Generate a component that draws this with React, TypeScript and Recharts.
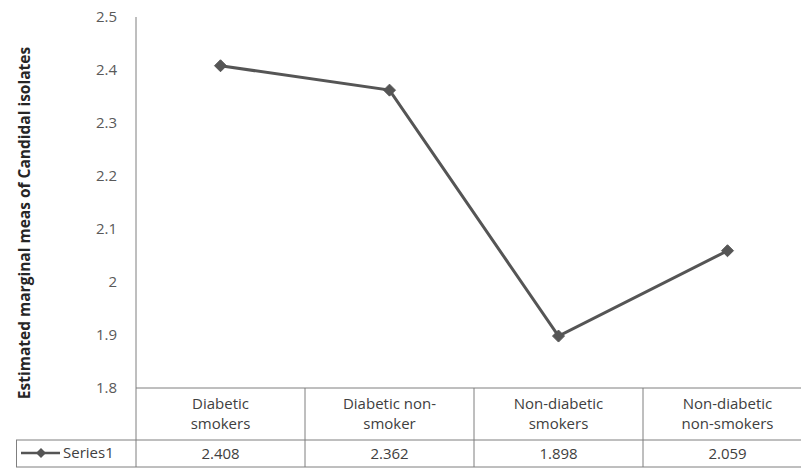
import React from 'react';
import { LineChart, Line, XAxis, YAxis, Label } from 'recharts';

const categories = ['Diabetic smokers', 'Diabetic non-smoker', 'Non-diabetic smokers', 'Non-diabetic non-smokers'];
const categoryLines = [
  ['Diabetic', 'smokers'],
  ['Diabetic non-', 'smoker'],
  ['Non-diabetic', 'smokers'],
  ['Non-diabetic', 'non-smokers'],
];
const series1 = [2.408, 2.362, 1.898, 2.059];
const valueLabels = ['2.408', '2.362', '1.898', '2.059'];
const yTicks = [1.8, 1.9, 2, 2.1, 2.2, 2.3, 2.4, 2.5];
const seriesName = 'Series1';
const yTitle = 'Estimated marginal meas of Candidal isolates';

const data = categories.map((name, i) => ({ name, idx: i, value: series1[i] }));

const CHART_W = 812;
const CHART_H = 469;
const Y_AXIS_W = 136;
const TOP = 17;
const X_AXIS_H = 81;
const BAND = (CHART_W - Y_AXIS_W) / categories.length;
const FONT = '"Open Sans", "Liberation Sans", sans-serif';
const BORDER = '#7f7f7f';
const LINE_COLOR = '#555555';
const TEXT = '#404040';

const Diamond = (props: any) => {
  const { cx, cy } = props;
  if (cx == null || cy == null) return null;
  const r = 6;
  return (
    <polygon
      points={`${cx},${cy - r} ${cx + r},${cy} ${cx},${cy + r} ${cx - r},${cy}`}
      fill={LINE_COLOR}
      stroke={LINE_COLOR}
      strokeWidth={1}
    />
  );
};

const TableTick = (props: any) => {
  const { x, y, payload } = props;
  const i = payload.index;
  const left = x - BAND / 2;
  const right = x + BAND / 2;
  const row1Bottom = y + 52;
  const row2Bottom = y + 79;
  const lines = categoryLines[i];
  return (
    <g>
      <line x1={right} y1={y} x2={right} y2={row2Bottom} stroke={BORDER} strokeWidth={1} />
      <line x1={left} y1={row1Bottom} x2={right} y2={row1Bottom} stroke={BORDER} strokeWidth={1} />
      <line x1={left} y1={row2Bottom} x2={right} y2={row2Bottom} stroke={BORDER} strokeWidth={1} />
      <text x={x} y={y + 21} textAnchor="middle" fill={TEXT} fontSize={15} fontFamily={FONT}>{lines[0]}</text>
      <text x={x} y={y + 41} textAnchor="middle" fill={TEXT} fontSize={15} fontFamily={FONT}>{lines[1]}</text>
      <text x={x} y={y + 71} textAnchor="middle" fill={TEXT} fontSize={15} fontFamily={FONT}>{valueLabels[i]}</text>
      {i === 0 && (
        <g>
          <line x1={16} y1={row1Bottom} x2={left} y2={row1Bottom} stroke={BORDER} strokeWidth={1} />
          <line x1={16} y1={row2Bottom} x2={left} y2={row2Bottom} stroke={BORDER} strokeWidth={1} />
          <line x1={16.5} y1={row1Bottom} x2={16.5} y2={row2Bottom} stroke={BORDER} strokeWidth={1} />
          <line x1={left} y1={y} x2={left} y2={row2Bottom} stroke={BORDER} strokeWidth={1} />
          <line x1={21} y1={y + 65} x2={60} y2={y + 65} stroke={LINE_COLOR} strokeWidth={2.5} />
          <polygon points={`41,${y + 60} 46,${y + 65} 41,${y + 70} 36,${y + 65}`} fill={LINE_COLOR} />
          <text x={63} y={y + 70} fill={TEXT} fontSize={15} fontFamily={FONT}>{seriesName}</text>
        </g>
      )}
    </g>
  );
};

const YTick = (props: any) => {
  const { y, payload } = props;
  return (
    <text x={117} y={y + 5} textAnchor="end" fill="#595959" fontSize={15} fontFamily={FONT}>
      {String(payload.value)}
    </text>
  );
};

export default function App() {
  return (
    <div style={{ position: 'absolute', left: 0, top: 0, width: 801, height: 469, overflow: 'hidden', background: '#fff' }}>
      <LineChart width={CHART_W} height={CHART_H} data={data} margin={{ top: TOP, right: 0, bottom: 0, left: 0 }}>
        <XAxis
          dataKey="name"
          scale="point"
          padding={{ left: BAND / 2, right: BAND / 2 }}
          height={X_AXIS_H}
          tickLine={false}
          tickSize={0}
          tickMargin={0}
          axisLine={{ stroke: BORDER }}
          interval={0}
          tick={<TableTick />}
        />
        <YAxis
          width={Y_AXIS_W}
          domain={[1.8, 2.5]}
          ticks={yTicks}
          type="number"
          allowDataOverflow
          tickLine={false}
          axisLine={{ stroke: BORDER }}
          tick={<YTick />}
        >
          <Label
            content={() => (
              <text
                transform="rotate(-90 30 223)"
                x={30}
                y={223}
                textAnchor="middle"
                fill="#262626"
                fontWeight="bold"
                fontSize={15.5}
                fontFamily={FONT}
              >
                {yTitle}
              </text>
            )}
          />
        </YAxis>
        <Line
          dataKey="value"
          stroke={LINE_COLOR}
          strokeWidth={3}
          dot={<Diamond />}
          activeDot={false}
          isAnimationActive={false}
        />
      </LineChart>
    </div>
  );
}
